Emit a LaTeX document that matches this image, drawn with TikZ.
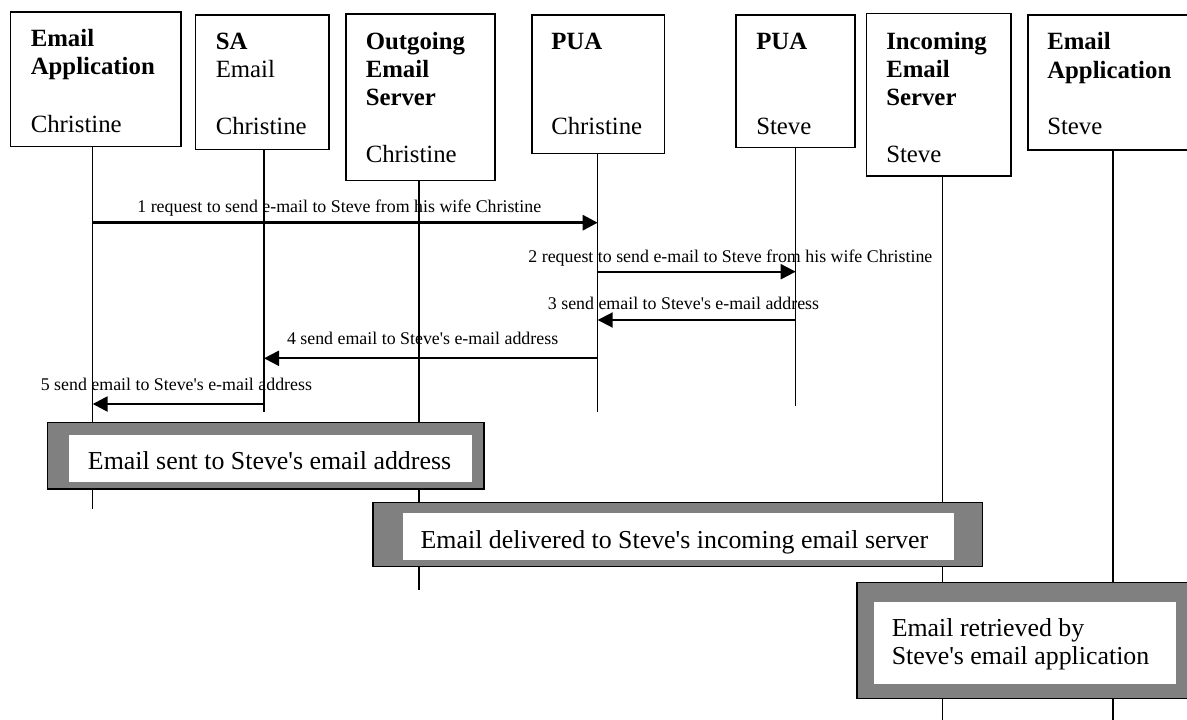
\documentclass[tikz,border=0pt]{standalone}
\usepackage{fontspec}
\setmainfont{Liberation Serif}
\usetikzlibrary{arrows.meta,fit}
\definecolor{framegray}{HTML}{808080}
\newcommand{\apo}{\textquotesingle}
\begin{document}
\begin{tikzpicture}[x=0.75pt,y=-0.75pt,
  hbox/.style={draw,line width=1.1pt,fill=white,inner sep=0pt,outer sep=0pt},
  htxt/.style={anchor=base west,inner sep=0pt,font=\fontsize{18.6}{22}\selectfont},
  life/.style={line width=0.95pt},
  msg/.style={line width=1.5pt,-{Triangle[length=11.25pt,width=11.25pt]}},
  lbl/.style={anchor=base,inner sep=0pt,font=\fontsize{13.4}{16}\selectfont},
  outerframe/.style={draw,line width=1.1pt,fill=framegray,inner sep=0pt,outer sep=0pt},
  innerframe/.style={fill=white,inner sep=0pt,outer sep=0pt},
  ftxt/.style={anchor=base west,inner sep=0pt,font=\fontsize{19.4}{23}\selectfont}]
\useasboundingbox (0,0) rectangle (1187,720);
\clip (0,0) rectangle (1187,720);
\fill[white] (0,0) rectangle (1187,720);

% header boxes
\node[hbox,fit={(10.3,12) (181,146.7)}] (b1) {};
\node[hbox,fit={(195.6,15) (329,149.3)}] (b2) {};
\node[hbox,fit={(346,14) (495,180.7)}] (b3) {};
\node[hbox,fit={(532,15) (664.4,153.3)}] (b4) {};
\node[hbox,fit={(736,15) (855,147.7)}] (b5) {};
\node[hbox,fit={(866.5,13.7) (1011,176)}] (b6) {};
\node[hbox,fit={(1028,15) (1200,150)}] (b7) {};

% header texts
\node[htxt] (t1a) at (30.5,46.5) {\textbf{Email}};
\node[htxt] (t1b) at (30.5,75) {\textbf{Application}};
\node[htxt] (t1c) at (30.5,132.5) {Christine};
\node[htxt] (t2a) at (215.5,50) {\textbf{SA}};
\node[htxt] (t2b) at (215.5,78) {Email};
\node[htxt] (t2c) at (215.5,134.5) {Christine};
\node[htxt] (t3a) at (365.5,50) {\textbf{Outgoing}};
\node[htxt] (t3b) at (365.5,78) {\textbf{Email}};
\node[htxt] (t3c) at (365.5,105.5) {\textbf{Server}};
\node[htxt] (t3d) at (365.5,162.5) {Christine};
\node[htxt] (t4a) at (551,50) {\textbf{PUA}};
\node[htxt] (t4b) at (551,134.5) {Christine};
\node[htxt] (t5a) at (756,50) {\textbf{PUA}};
\node[htxt] (t5b) at (756,134.5) {Steve};
\node[htxt] (t6a) at (886,50) {\textbf{Incoming}};
\node[htxt] (t6b) at (886,78) {\textbf{Email}};
\node[htxt] (t6c) at (886,105.5) {\textbf{Server}};
\node[htxt] (t6d) at (886,162.5) {Steve};
\node[htxt] (t7a) at (1047,50) {\textbf{Email}};
\node[htxt] (t7b) at (1047,78.5) {\textbf{Application}};
\node[htxt] (t7c) at (1047,134.5) {Steve};

% lifeline ends
\coordinate (e1) at (92.7,509);
\coordinate (e2) at (264,411.7);
\coordinate (e3) at (419,589.5);
\coordinate (e4) at (597.7,411.7);
\coordinate (e5) at (795.7,406);
\coordinate (e6) at (942.2,720);
\coordinate (e7) at (1113,720);
\draw[life] (b1.south -| e1) -- (e1);
\draw[life] (b2.south -| e2) -- (e2);
\draw[life] (b3.south -| e3) -- (e3);
\draw[life] (b4.south -| e4) -- (e4);
\draw[life] (b5.south -| e5) -- (e5);
\draw[life] (b6.south -| e6) -- (e6);
\draw[life] (b7.south -| e7) -- (e7);

% messages
\coordinate (m1a) at (92.7,222.7);  \coordinate (m1b) at (597.7,222.7);
\coordinate (m2a) at (597.7,271.7); \coordinate (m2b) at (795.7,271.7);
\coordinate (m3a) at (795.7,320);   \coordinate (m3b) at (597.7,320);
\coordinate (m4a) at (597.7,358.3); \coordinate (m4b) at (264,358.3);
\coordinate (m5a) at (264,404);     \coordinate (m5b) at (92.7,404);
\draw[msg,line width=2.25pt] (m1a) -- (m1b);
\draw[msg] (m2a) -- (m2b);
\draw[msg] (m3a) -- (m3b);
\draw[msg] (m4a) -- (m4b);
\draw[msg,line width=1.9pt] (m5a) -- (m5b);
\node[lbl] (l1) at (339.3,213) {1 request to send e-mail to Steve from his wife Christine};
\node[lbl] (l2) at (730.4,262.5) {2 request to send e-mail to Steve from his wife Christine};
\node[lbl] (l3) at (683.5,309) {3 send email to Steve\apo s e-mail address};
\node[lbl] (l4) at (422.6,344.5) {4 send email to Steve\apo s e-mail address};
\node[lbl] (l5) at (176.4,390.5) {5 send email to Steve\apo s e-mail address};

% state frames
\node[outerframe,fit={(47.7,422.7) (484,489)}] (f1) {};
\node[innerframe,fit={(69,434.7) (472,481.7)}] (f1i) {};
\node[ftxt] (f1t) at (87.7,469.5) {Email sent to Steve\apo s email address};

\node[outerframe,fit={(373,502.3) (982.6,566.7)}] (f2) {};
\node[innerframe,fit={(403,513.3) (954.2,560)}] (f2i) {};
\node[ftxt] (f2t) at (420.4,548) {Email delivered to Steve\apo s incoming email server};

\node[outerframe,fit={(857,582.3) (1200,698.3)}] (f3) {};
\node[innerframe,fit={(874,602.3) (1175.8,684.3)}] (f3i) {};
\node[ftxt] (f3t) at (891.5,636) {Email retrieved by};
\node[ftxt] (f3u) at (891.5,664) {Steve\apo s email application};
\end{tikzpicture}
\end{document}
